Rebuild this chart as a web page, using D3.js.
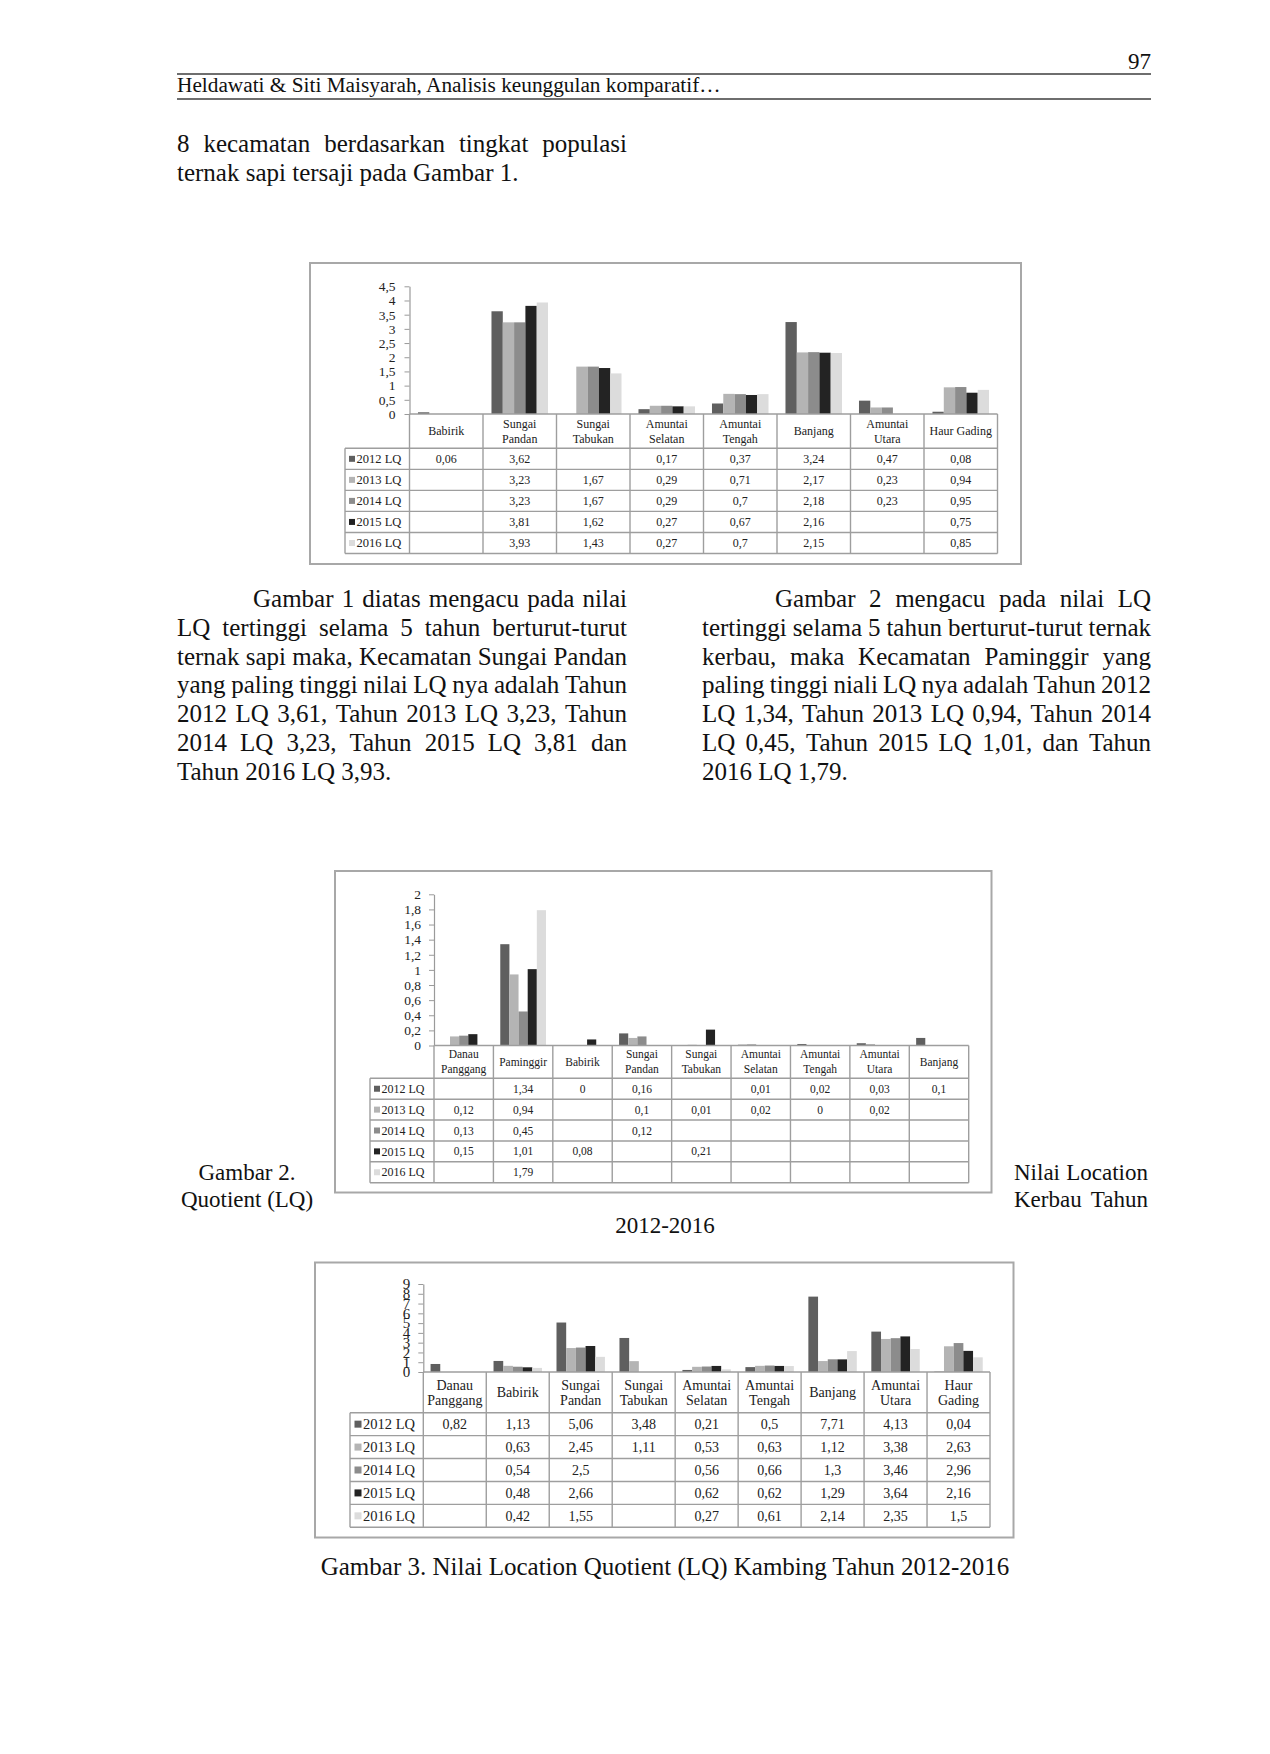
<!DOCTYPE html>
<html><head><meta charset="utf-8">
<script src="https://cdn.jsdelivr.net/npm/d3@7"></script>
<style>body{margin:0;background:#fff}svg{display:block}</style>
</head><body>
<svg id="page" width="1270" height="1754"></svg>
<script>
// ---------- DATA ----------
const seriesNames = ["2012 LQ", "2013 LQ", "2014 LQ", "2015 LQ", "2016 LQ"];

// Gambar 1 : Sapi
const sapiCategories = ["Babirik", "Sungai Pandan", "Sungai Tabukan", "Amuntai Selatan", "Amuntai Tengah", "Banjang", "Amuntai Utara", "Haur Gading"];
const sapi2012 = [0.06, 3.62, null, 0.17, 0.37, 3.24, 0.47, 0.08];
const sapi2013 = [null, 3.23, 1.67, 0.29, 0.71, 2.17, 0.23, 0.94];
const sapi2014 = [null, 3.23, 1.67, 0.29, 0.7, 2.18, 0.23, 0.95];
const sapi2015 = [null, 3.81, 1.62, 0.27, 0.67, 2.16, null, 0.75];
const sapi2016 = [null, 3.93, 1.43, 0.27, 0.7, 2.15, null, 0.85];
const sapiTicks = [0, 0.5, 1, 1.5, 2, 2.5, 3, 3.5, 4, 4.5];

// Gambar 2 : Kerbau
const kerbauCategories = ["Danau Panggang", "Paminggir", "Babirik", "Sungai Pandan", "Sungai Tabukan", "Amuntai Selatan", "Amuntai Tengah", "Amuntai Utara", "Banjang"];
const kerbau2012 = [null, 1.34, 0, 0.16, null, 0.01, 0.02, 0.03, 0.1];
const kerbau2013 = [0.12, 0.94, null, 0.1, 0.01, 0.02, 0, 0.02, null];
const kerbau2014 = [0.13, 0.45, null, 0.12, null, null, null, null, null];
const kerbau2015 = [0.15, 1.01, 0.08, null, 0.21, null, null, null, null];
const kerbau2016 = [null, 1.79, null, null, null, null, null, null, null];
const kerbauTicks = [0, 0.2, 0.4, 0.6, 0.8, 1, 1.2, 1.4, 1.6, 1.8, 2];

// Gambar 3 : Kambing
const kambingCategories = ["Danau Panggang", "Babirik", "Sungai Pandan", "Sungai Tabukan", "Amuntai Selatan", "Amuntai Tengah", "Banjang", "Amuntai Utara", "Haur Gading"];
const kambing2012 = [0.82, 1.13, 5.06, 3.48, 0.21, 0.5, 7.71, 4.13, 0.04];
const kambing2013 = [null, 0.63, 2.45, 1.11, 0.53, 0.63, 1.12, 3.38, 2.63];
const kambing2014 = [null, 0.54, 2.5, null, 0.56, 0.66, 1.3, 3.46, 2.96];
const kambing2015 = [null, 0.48, 2.66, null, 0.62, 0.62, 1.29, 3.64, 2.16];
const kambing2016 = [null, 0.42, 1.55, null, 0.27, 0.61, 2.14, 2.35, 1.5];
const kambingTicks = [0, 1, 2, 3, 4, 5, 6, 7, 8, 9];

// page text
const pageNumber = "97";
const runningHead = "Heldawati & Siti Maisyarah, Analisis keunggulan komparatif…";
const introLines = ["8 kecamatan berdasarkan tingkat populasi", "ternak sapi tersaji pada Gambar 1."];
const leftParagraph = ["Gambar 1 diatas mengacu pada nilai", "LQ tertinggi selama 5 tahun berturut-turut", "ternak sapi maka, Kecamatan Sungai Pandan", "yang paling tinggi nilai LQ nya adalah Tahun", "2012 LQ 3,61, Tahun 2013 LQ 3,23, Tahun", "2014 LQ 3,23, Tahun 2015 LQ 3,81 dan", "Tahun 2016 LQ 3,93."];
const rightParagraph = ["Gambar 2 mengacu pada nilai LQ", "tertinggi selama 5 tahun berturut-turut ternak", "kerbau, maka Kecamatan Paminggir yang", "paling tinggi niali LQ nya adalah Tahun 2012", "LQ 1,34, Tahun 2013 LQ 0,94, Tahun 2014", "LQ 0,45, Tahun 2015 LQ 1,01, dan Tahun", "2016 LQ 1,79."];
const caption2Left = ["Gambar 2.", "Quotient (LQ)"];
const caption2Right = ["Nilai Location", "Kerbau Tahun"];
const caption2Bottom = "2012-2016";
const caption3 = "Gambar 3. Nilai Location Quotient (LQ) Kambing Tahun 2012-2016";

// ---------- DRAWING ----------
const SERIF = "'Liberation Serif','Times New Roman',serif";
const seriesColors = ["#5f5f5f", "#b4b4b4", "#8c8c8c", "#232323", "#dcdcdc"];
const fmt = v => String(v).replace(".", ",");
const svg = d3.select("#page");
svg.append("rect").attr("width", 1270).attr("height", 1754).attr("fill", "#fff");

function plainText(str, x, y, size, anchor) {
  svg.append("text").attr("x", x).attr("y", y).attr("font-family", SERIF)
    .attr("font-size", size).attr("fill", "#111").attr("text-anchor", anchor || "start").text(str);
}
function justifiedText(str, x, y, width, size) {
  const words = str.split(" ");
  const widths = words.map(w => {
    const t = svg.append("text").attr("font-family", SERIF).attr("font-size", size).text(w);
    const wd = t.node().getComputedTextLength(); t.remove(); return wd;
  });
  const gap = (width - d3.sum(widths)) / (words.length - 1);
  let cx = x;
  words.forEach((w, i) => {
    svg.append("text").attr("x", cx).attr("y", y).attr("font-family", SERIF)
      .attr("font-size", size).attr("fill", "#111").text(w);
    cx += widths[i] + gap;
  });
}
function paragraph(lines, x, right, y0, step, size, indent) {
  lines.forEach((ln, i) => {
    const lx = i === 0 ? x + indent : x;
    if (i < lines.length - 1) justifiedText(ln, lx, y0 + i * step, right - lx, size);
    else plainText(ln, lx, y0 + i * step, size);
  });
}

// header
plainText(pageNumber, 1151, 69, 23, "end");
svg.append("line").attr("x1", 177).attr("x2", 1151).attr("y1", 74).attr("y2", 74).attr("stroke", "#6e6e6e").attr("stroke-width", 2);
svg.append("text").attr("x", 177).attr("y", 92).attr("font-family", SERIF).attr("font-size", 21.3)
  .attr("fill", "#111").text(runningHead);
svg.append("line").attr("x1", 177).attr("x2", 1151).attr("y1", 99).attr("y2", 99).attr("stroke", "#6e6e6e").attr("stroke-width", 2);

paragraph(introLines, 177, 627, 152, 28.8, 25, 0);
paragraph(leftParagraph, 177, 627, 607, 28.8, 25, 76);
paragraph(rightParagraph, 702, 1151, 607, 28.8, 25, 73);

caption2Left.forEach((t, i) => plainText(t, 247, 1180 + i * 26.5, 23, "middle"));
caption2Right.forEach((t, i) => justifiedText(t, 1014, 1180 + i * 26.5, 134, 23));
plainText(caption2Bottom, 665, 1233, 23, "middle");
plainText(caption3, 665, 1575, 25, "middle");

function drawChart(cfg) {
  const g = svg.append("g");
  const [bx0, by0, bx1, by1] = cfg.box;
  g.append("rect").attr("x", bx0).attr("y", by0).attr("width", bx1 - bx0).attr("height", by1 - by0)
    .attr("fill", "#fff").attr("stroke", "#a8a8a8").attr("stroke-width", 2);

  const x0 = d3.scaleBand().domain(cfg.categories).range([cfg.x0, cfg.x1]).padding(0);
  const x1 = d3.scaleBand().domain(seriesNames).range([0, x0.bandwidth()]).paddingInner(0).paddingOuter(0.75);
  const y = d3.scaleLinear().domain([0, cfg.ymax]).range([cfg.yZero, cfg.yTop]);

  cfg.series.forEach((vals, si) => {
    g.selectAll(null)
      .data(vals.map((v, i) => ({ v, c: cfg.categories[i] })).filter(d => d.v != null && d.v > 0))
      .enter().append("rect")
      .attr("x", d => x0(d.c) + x1(seriesNames[si]))
      .attr("width", x1.bandwidth())
      .attr("y", d => y(d.v))
      .attr("height", d => y(0) - y(d.v))
      .attr("fill", seriesColors[si]);
  });

  const axis = d3.axisLeft(y).tickValues(cfg.ticks).tickSizeInner(5).tickSizeOuter(0).tickPadding(cfg.tickPad).tickFormat(fmt);
  const ag = g.append("g").attr("transform", `translate(${cfg.x0},0)`).call(axis);
  ag.select(".domain").attr("stroke", "#9a9a9a").attr("stroke-width", 1.2);
  ag.selectAll(".tick line").attr("stroke", "#9a9a9a");
  ag.selectAll(".tick text").attr("font-family", SERIF).attr("font-size", cfg.tickSize).attr("fill", "#222");

  // data table
  const rowYs = d3.range(6).map(i => cfg.yHead + i * cfg.rowH);
  const yBottom = rowYs[5];
  const grid = g.append("g").attr("stroke", "#9e9e9e").attr("stroke-width", 1.4);
  grid.append("line").attr("x1", cfg.x0).attr("x2", cfg.x1).attr("y1", cfg.yZero).attr("y2", cfg.yZero);
  rowYs.forEach(ry => grid.append("line").attr("x1", cfg.legLeft).attr("x2", cfg.x1).attr("y1", ry).attr("y2", ry));
  d3.range(cfg.categories.length + 1).forEach(i => {
    const vx = cfg.x0 + i * x0.bandwidth();
    grid.append("line").attr("x1", vx).attr("x2", vx).attr("y1", cfg.yZero).attr("y2", yBottom);
  });
  grid.append("line").attr("x1", cfg.legLeft).attr("x2", cfg.legLeft).attr("y1", cfg.yHead).attr("y2", yBottom);

  // header cells
  const headMid = (cfg.yZero + cfg.yHead) / 2;
  cfg.categories.forEach((c, i) => {
    const cx = x0(c) + x0.bandwidth() / 2;
    const lines = cfg.wrap[i] ? [c.slice(0, c.indexOf(" ")), c.slice(c.indexOf(" ") + 1)] : [c];
    lines.forEach((ln, k) => {
      g.append("text").attr("x", cx)
        .attr("y", headMid + (k - (lines.length - 1) / 2) * cfg.headLine)
        .attr("dy", "0.35em").attr("text-anchor", "middle")
        .attr("font-family", SERIF).attr("font-size", cfg.headSize).attr("fill", "#222").text(ln);
    });
  });

  // legend + values
  cfg.series.forEach((vals, si) => {
    const cy = rowYs[si] + cfg.rowH / 2;
    g.append("rect").attr("x", cfg.legLeft + cfg.keyOff).attr("y", cy - cfg.key / 2)
      .attr("width", cfg.key).attr("height", cfg.key).attr("fill", seriesColors[si]);
    g.append("text").attr("x", cfg.legLeft + cfg.keyOff + cfg.key + 1.5).attr("y", cy).attr("dy", "0.35em")
      .attr("font-family", SERIF).attr("font-size", cfg.legSize).attr("fill", "#222").text(seriesNames[si]);
    vals.forEach((v, i) => {
      if (v == null) return;
      g.append("text").attr("x", x0(cfg.categories[i]) + x0.bandwidth() / 2).attr("y", cy).attr("dy", "0.35em")
        .attr("text-anchor", "middle").attr("font-family", SERIF).attr("font-size", cfg.valSize)
        .attr("fill", "#222").text(fmt(v));
    });
  });
}

drawChart({
  box: [310, 263, 1021, 564],
  categories: sapiCategories,
  series: [sapi2012, sapi2013, sapi2014, sapi2015, sapi2016],
  ticks: sapiTicks, ymax: 4.5,
  x0: 409.5, x1: 997.5, yZero: 414, yTop: 286.3,
  yHead: 448.3, rowH: 21.04, legLeft: 345,
  wrap: [false, true, true, true, true, false, true, false],
  tickSize: 13.5, tickPad: 9, headSize: 12, headLine: 15, valSize: 12, legSize: 12.5, key: 6, keyOff: 4
});

drawChart({
  box: [335, 871, 991.5, 1192.5],
  categories: kerbauCategories,
  series: [kerbau2012, kerbau2013, kerbau2014, kerbau2015, kerbau2016],
  ticks: kerbauTicks, ymax: 2,
  x0: 434, x1: 968.7, yZero: 1045.5, yTop: 894.3,
  yHead: 1078.3, rowH: 20.88, legLeft: 370,
  wrap: [true, false, false, true, true, true, true, true, false],
  tickSize: 13.5, tickPad: 8, headSize: 11.5, headLine: 15, valSize: 11.5, legSize: 12, key: 6, keyOff: 4
});

drawChart({
  box: [315, 1262.5, 1013.5, 1537.5],
  categories: kambingCategories,
  series: [kambing2012, kambing2013, kambing2014, kambing2015, kambing2016],
  ticks: kambingTicks, ymax: 9,
  x0: 423.3, x1: 990, yZero: 1372, yTop: 1284,
  yHead: 1412.7, rowH: 22.92, legLeft: 350,
  wrap: [true, false, true, true, true, true, false, true, true],
  tickSize: 15, tickPad: 8, headSize: 14, headLine: 15.5, valSize: 14, legSize: 14.5, key: 7, keyOff: 4.5
});
</script>
</body></html>
